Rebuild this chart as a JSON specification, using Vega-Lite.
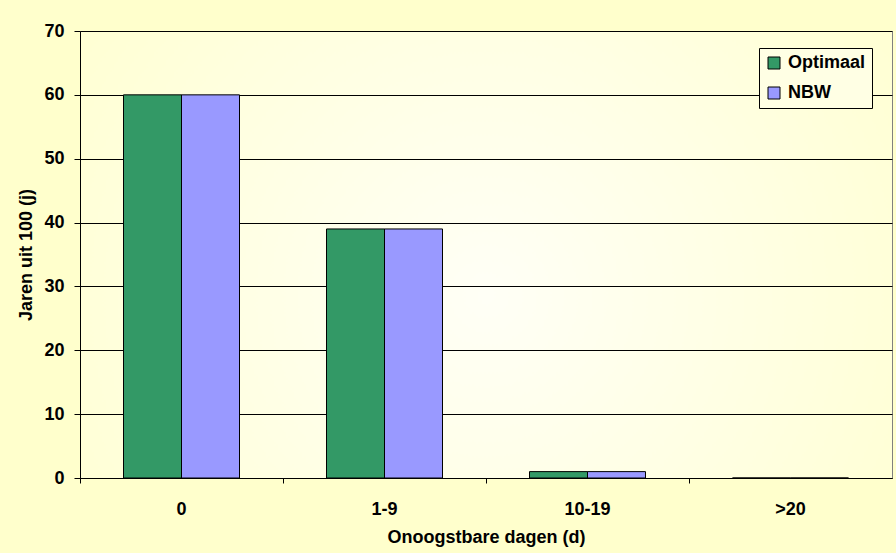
{
  "$schema": "https://vega.github.io/schema/vega-lite/v6.json",
  "width": 812,
  "height": 447,
  "autosize": {"type": "none"},
  "padding": {"left": 80, "top": 31, "right": 4, "bottom": 75},
  "background": "#FFFFCC",
  "data": {
    "values": [
      {"dagen": "0", "reeks": "Optimaal", "jaren": 60},
      {"dagen": "0", "reeks": "NBW", "jaren": 60},
      {"dagen": "1-9", "reeks": "Optimaal", "jaren": 39},
      {"dagen": "1-9", "reeks": "NBW", "jaren": 39},
      {"dagen": "10-19", "reeks": "Optimaal", "jaren": 1},
      {"dagen": "10-19", "reeks": "NBW", "jaren": 1},
      {"dagen": ">20", "reeks": "Optimaal", "jaren": 0},
      {"dagen": ">20", "reeks": "NBW", "jaren": 0}
    ]
  },
  "mark": {"type": "bar", "stroke": "#000000", "strokeWidth": 1},
  "encoding": {
    "x": {
      "field": "dagen",
      "type": "nominal",
      "sort": ["0", "1-9", "10-19", ">20"],
      "scale": {"paddingInner": 0, "paddingOuter": 0},
      "axis": {
        "title": "Onoogstbare dagen (d)",
        "labelAngle": 0,
        "bandPosition": 0,
        "tickSize": 5,
        "labelPadding": 17,
        "titlePadding": 10,
        "grid": false
      }
    },
    "xOffset": {
      "field": "reeks",
      "type": "nominal",
      "sort": ["Optimaal", "NBW"],
      "scale": {"paddingInner": 0, "paddingOuter": 0.75}
    },
    "y": {
      "field": "jaren",
      "type": "quantitative",
      "scale": {"domain": [0, 70], "nice": false},
      "axis": {
        "title": "Jaren uit 100 (j)",
        "values": [0, 10, 20, 30, 40, 50, 60, 70],
        "tickSize": 6,
        "labelPadding": 10,
        "titlePadding": 8,
        "grid": true
      }
    },
    "color": {
      "field": "reeks",
      "type": "nominal",
      "sort": ["Optimaal", "NBW"],
      "scale": {"domain": ["Optimaal", "NBW"], "range": ["#339966", "#9999FF"]},
      "legend": {
        "title": null,
        "orient": "none",
        "legendX": 679,
        "legendY": 17,
        "fillColor": "#FFFFE4",
        "strokeColor": "#000000",
        "padding": 6,
        "rowPadding": 12,
        "symbolType": "square",
        "symbolSize": 144,
        "symbolStrokeColor": "#000000",
        "symbolStrokeWidth": 1,
        "symbolOpacity": 1,
        "labelOffset": 5,
        "labelFont": "Liberation Sans",
        "labelFontWeight": "bold",
        "labelFontSize": 18,
        "labelColor": "#000000"
      }
    }
  },
  "config": {
    "view": {
      "stroke": "#808080",
      "strokeWidth": 1,
      "fill": {
        "gradient": "radial",
        "x1": 0.5, "y1": 0.55, "r1": 0,
        "x2": 0.5, "y2": 0.55, "r2": 0.75,
        "stops": [
          {"offset": 0, "color": "#FFFFF6"},
          {"offset": 1, "color": "#FFFFCA"}
        ]
      }
    },
    "axis": {
      "domainColor": "#000000",
      "domainWidth": 1,
      "tickColor": "#000000",
      "tickWidth": 1,
      "gridColor": "#000000",
      "gridWidth": 1,
      "gridOpacity": 1,
      "labelFont": "Liberation Sans",
      "labelFontWeight": "bold",
      "labelFontSize": 18,
      "labelColor": "#000000",
      "titleFont": "Liberation Sans",
      "titleFontWeight": "bold",
      "titleFontSize": 18,
      "titleColor": "#000000"
    }
  }
}
